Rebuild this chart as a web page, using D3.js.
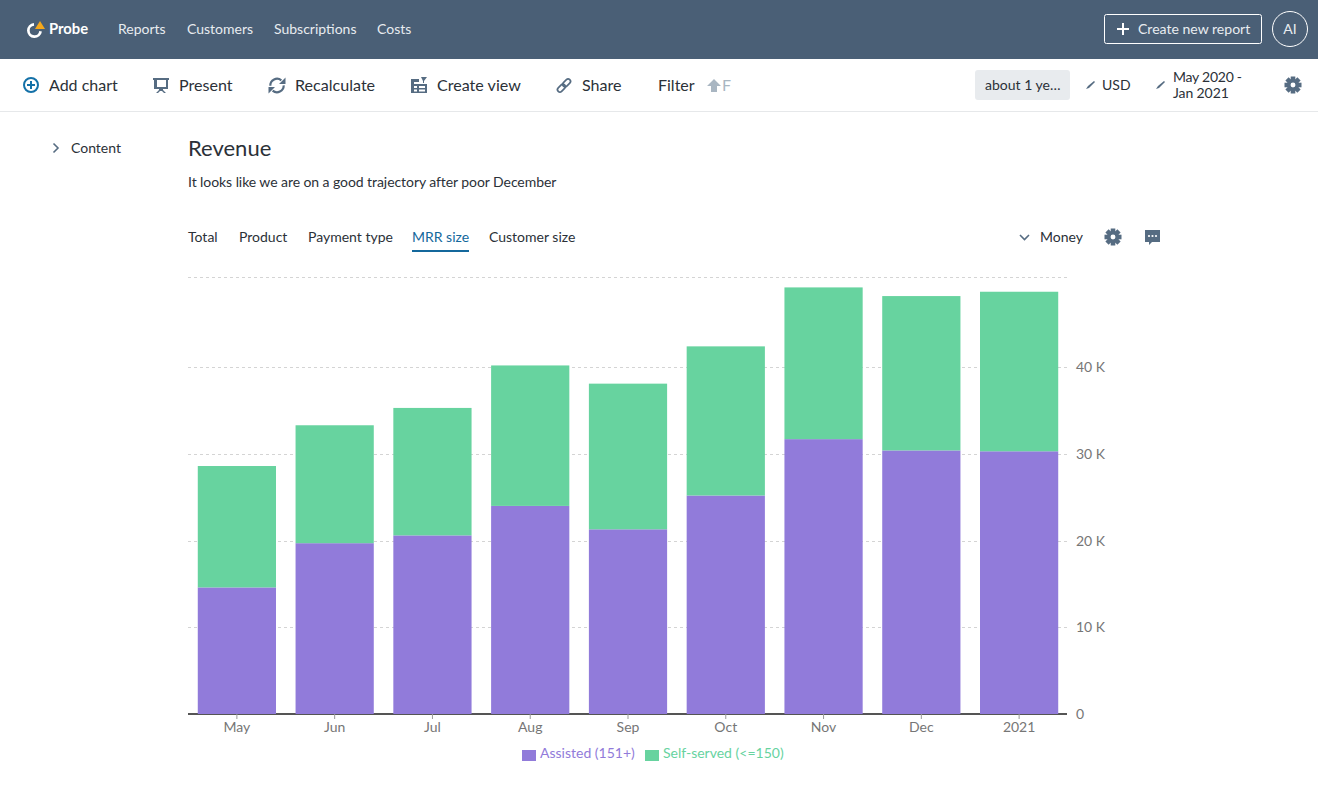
<!DOCTYPE html>
<html>
<head>
<meta charset="utf-8">
<title>Revenue</title>
<script src="https://cdn.jsdelivr.net/npm/d3@7"></script>
<style>
	html, body { margin: 0; padding: 0; background: #fff; overflow: hidden; }
	svg { display: block; font-family: Lato, "Open Sans", sans-serif; }
	.axis path, .axis line { fill: none; }
	.axis text { font-family: Lato, sans-serif; font-size: 14px; fill: #767676; }
</style>
</head>
<body>
<div id="chart"></div>
<script>

	/* ---------------------------------
		Data
	------------------------------------*/

	var months = ["May", "Jun", "Jul", "Aug", "Sep", "Oct", "Nov", "Dec", "2021"];
	var assisted = [14600, 19700, 20600, 24000, 21300, 25200, 31700, 30400, 30300];
	var selfServed = [14000, 13600, 14700, 16200, 16800, 17200, 17500, 17800, 18400];
	var seriesNames = ["Assisted (151+)", "Self-served (<=150)"];
	var yTicks = [0, 10000, 20000, 30000, 40000];
	var yTop = 50400;

	var navItems = ["Reports", "Customers", "Subscriptions", "Costs"];
	var tabs = ["Total", "Product", "Payment type", "MRR size", "Customer size"];

	var purple = "#917bda";
	var green = "#67d39f";
	var slate = "#4a5f76";
	var iconColor = "#566c82";
	var dark = "#2b3138";

	// Set width and height for SVG area
	var w = 1318;
	var h = 794;

	var svg = d3.select("#chart").append("svg")
		.attr("width", w)
		.attr("height", h);

	function label(x, y, str, size, color, opts) {
		opts = opts || {};
		return svg.append("text")
			.attr("x", x)
			.attr("y", y)
			.attr("font-size", size)
			.attr("fill", color)
			.attr("font-weight", opts.weight || 400)
			.attr("text-anchor", opts.anchor || "start")
			.attr("letter-spacing", opts.spacing || null)
			.text(str);
	}

	// small gear, used twice
	function gear(cx, cy, r) {
		var g = svg.append("g").attr("transform", "translate(" + cx + "," + cy + ")");
		d3.range(8).forEach(function(i) {
			g.append("rect")
				.attr("x", -r * 0.27).attr("y", -r)
				.attr("width", r * 0.54).attr("height", r * 0.5)
				.attr("fill", iconColor)
				.attr("transform", "rotate(" + i * 45 + ")");
		});
		g.append("circle").attr("r", r * 0.5)
			.attr("fill", "none")
			.attr("stroke", iconColor)
			.attr("stroke-width", r * 0.42);
	}

	function pencil(x, y) {
		svg.append("path")
			.attr("d", "M" + x + "," + (y + 8) + "l2,-3l6,-5l1,1l-6,6z")
			.attr("fill", iconColor);
	}


	/* ---------------------------------
		Top bar
	------------------------------------*/

	svg.append("rect").attr("width", w).attr("height", 59).attr("fill", slate);

	// logo
	svg.append("path")
		.attr("d", d3.arc()({ innerRadius: 4.8, outerRadius: 7.5, startAngle: 1.7, endAngle: 6.2 }))
		.attr("transform", "translate(34.5,30.5)")
		.attr("fill", "#fff");
	svg.append("path").attr("d", "M35,29 L40,21 L45,29 Z").attr("fill", "#f5a81c");
	label(49, 34, "Probe", 14.8, "#fff", { weight: 700 });

	var navX = [118, 187, 274, 377];
	navItems.forEach(function(d, i) {
		label(navX[i], 34, d, 14, "#e8ecf0");
	});

	svg.append("rect")
		.attr("x", 1104.5).attr("y", 14.5).attr("width", 157).attr("height", 29).attr("rx", 2)
		.attr("fill", "none").attr("stroke", "#fff");
	svg.append("path")
		.attr("d", "M1123,23v12M1117,29h12")
		.attr("stroke", "#fff").attr("stroke-width", 2).attr("fill", "none");
	label(1138, 34, "Create new report", 14.05, "#e8ecf0");
	svg.append("circle")
		.attr("cx", 1290).attr("cy", 29).attr("r", 17.5)
		.attr("fill", "none").attr("stroke", "#fff");
	label(1290, 34, "AI", 14, "#e8ecf0", { anchor: "middle" });


	/* ---------------------------------
		Toolbar
	------------------------------------*/

	svg.append("line")
		.attr("x1", 0).attr("x2", w).attr("y1", 111.5).attr("y2", 111.5)
		.attr("stroke", "#e6e8ea");

	// add chart
	svg.append("circle").attr("cx", 31).attr("cy", 85).attr("r", 7)
		.attr("fill", "none").attr("stroke", "#1471a8").attr("stroke-width", 2);
	svg.append("path").attr("d", "M31,81v8M27,85h8")
		.attr("stroke", "#1471a8").attr("stroke-width", 2);
	label(49, 91, "Add chart", 16, dark);

	// present
	svg.append("path")
		.attr("d", "M153,78h16v2h-1v9h-5v1l3,3h-2l-2,-2h-2l-2,2h-2l3,-3v-1h-5v-9h-1zM157,80v7h9v-7z")
		.attr("fill", iconColor);
	label(179, 91, "Present", 16.1, dark);

	// recalculate
	svg.append("path")
		.attr("d", d3.arc()({ innerRadius: 5.6, outerRadius: 7.8, startAngle: -1.6, endAngle: 0.7 }))
		.attr("transform", "translate(277,85.5)").attr("fill", iconColor);
	svg.append("path")
		.attr("d", d3.arc()({ innerRadius: 5.6, outerRadius: 7.8, startAngle: 1.55, endAngle: 3.85 }))
		.attr("transform", "translate(277,85.5)").attr("fill", iconColor);
	svg.append("path").attr("d", "M285.500,77.500v6.500h-6.500zM268.500,93.500v-6.500h6.500z").attr("fill", iconColor);
	label(295, 91, "Recalculate", 16.1, dark);

	// create view
	svg.append("path")
		.attr("d", "M411,79h8v3h-5v2h13v9h-16zM414,86v2h3v-2zM419,86v2h6v-2zM414,89.500v2h3v-2zM419,89.500v2h6v-2zM421,77h6l-3,4v2h-1v-2z")
		.attr("fill", iconColor).attr("fill-rule", "evenodd");
	label(437, 91, "Create view", 16.1, dark);

	// share
	[[-2.6, 2.6], [2.6, -2.6]].forEach(function(p) {
		svg.append("rect")
			.attr("x", -4.5).attr("y", -2.4).attr("width", 9).attr("height", 4.8).attr("rx", 2.4)
			.attr("fill", "none").attr("stroke", iconColor).attr("stroke-width", 1.7)
			.attr("transform", "translate(" + (564 + p[0]) + "," + (85.5 + p[1]) + ") rotate(-45)");
	});
	label(582, 91, "Share", 16.1, dark);

	label(658, 91, "Filter", 16, dark);
	svg.append("path").attr("d", "M714,79l7,7h-4v6h-6v-6h-4z").attr("fill", "#a9b6c2");
	label(722, 91, "F", 16, "#a9b6c2");

	svg.append("rect")
		.attr("x", 975).attr("y", 70).attr("width", 95).attr("height", 30).attr("rx", 3)
		.attr("fill", "#e8ebee");
	label(985, 90, "about 1 ye…", 14, dark);

	pencil(1086, 81);
	label(1102, 90, "USD", 14, dark);
	pencil(1156, 81);
	label(1173, 82, "May 2020 -", 14, dark, { spacing: -0.25 });
	label(1173, 98, "Jan 2021", 14, dark, { spacing: -0.1 });
	gear(1293, 85, 8.5);


	/* ---------------------------------
		Side content and headings
	------------------------------------*/

	svg.append("path").attr("d", "M53.500,143.500l4.500,4.500l-4.500,4.500")
		.attr("fill", "none").attr("stroke", iconColor).attr("stroke-width", 1.6);
	label(71, 153, "Content", 14, dark);

	label(188, 156, "Revenue", 22, dark);
	label(188, 187, "It looks like we are on a good trajectory after poor December", 14, dark, { spacing: -0.07 });

	var tabX = [188, 239, 308, 412, 489];
	tabs.forEach(function(d, i) {
		label(tabX[i], 242, d, 14, d == "MRR size" ? "#14689c" : dark);
	});
	svg.append("rect")
		.attr("x", 412).attr("y", 250).attr("width", 57).attr("height", 2)
		.attr("fill", "#14689c");

	svg.append("path").attr("d", "M1020,235l4.500,4.500l4.500,-4.500")
		.attr("fill", "none").attr("stroke", iconColor).attr("stroke-width", 1.6);
	label(1040, 242, "Money", 14, dark);
	gear(1113, 237, 8.5);
	svg.append("path")
		.attr("d", "M1145,230h15v12h-8l-3,3v-3h-4z")
		.attr("fill", iconColor);
	[1149, 1152.5, 1156].forEach(function(x) {
		svg.append("circle").attr("cx", x).attr("cy", 236).attr("r", 1.1).attr("fill", "#fff");
	});


	/* ---------------------------------
		Scales & Axes
	------------------------------------*/

	var chartLeft = 188, chartRight = 1068, chartTop = 277, chartBottom = 714;

	var xScale = d3.scaleBand()
		.domain(months)
		.range([chartLeft, chartRight])
		.paddingInner(0.2)
		.paddingOuter(0.1);

	var yScale = d3.scaleLinear()
		.domain([0, yTop])
		.range([chartBottom, chartTop]);

	var formatK = function(d) { return d == 0 ? "0" : (d / 1000) + " K"; };

	// Dotted grid lines, the top one has no label
	svg.append("g")
		.selectAll("line")
		.data(yTicks.slice(1).concat([yTop]))
		.enter()
		.append("line")
		.attr("x1", chartLeft)
		.attr("x2", chartRight - 1)
		.attr("y1", function(d) { return Math.round(yScale(d)) + 0.5; })
		.attr("y2", function(d) { return Math.round(yScale(d)) + 0.5; })
		.attr("stroke", "#d4d4d4")
		.attr("stroke-dasharray", "3,3");

	// X axis goes under the bars, they cover the top half of its line
	var xAxis = d3.axisBottom(xScale).tickSize(5).tickPadding(3);
	var gx = svg.append("g")
		.attr("class", "axis")
		.attr("transform", "translate(0," + chartBottom + ")")
		.call(xAxis);
	gx.select(".domain").attr("stroke", "#555").attr("stroke-width", 2)
		.attr("d", "M" + chartLeft + ",0H" + (chartRight - 1));
	gx.selectAll(".tick line").attr("stroke", "#999");


	/* ---------------------------------
		Bars
	------------------------------------*/

	var stackData = months.map(function(m, i) {
		return { month: m, a: assisted[i], s: selfServed[i] };
	});
	var stacked = d3.stack().keys(["a", "s"])(stackData);
	var colors = [purple, green];

	svg.append("g")
		.selectAll("g")
		.data(stacked)
		.enter()
		.append("g")
		.attr("fill", function(d, i) { return colors[i]; })
		.selectAll("rect")
		.data(function(d) { return d; })
		.enter()
		.append("rect")
		.attr("x", function(d) { return xScale(d.data.month); })
		.attr("width", xScale.bandwidth())
		.attr("y", function(d) { return yScale(d[1]); })
		.attr("height", function(d) { return yScale(d[0]) - yScale(d[1]); });

	var yAxis = d3.axisRight(yScale).tickValues(yTicks).tickFormat(formatK).tickSize(0).tickPadding(0);
	var gy = svg.append("g")
		.attr("class", "axis")
		.attr("transform", "translate(1076,0)")
		.call(yAxis);
	gy.select(".domain").remove();


	/* ---------------------------------
		Legend
	------------------------------------*/

	var legendX = [522, 645];
	seriesNames.forEach(function(d, i) {
		svg.append("rect")
			.attr("x", legendX[i]).attr("y", 750)
			.attr("width", 14).attr("height", 11)
			.attr("fill", colors[i]);
		label(legendX[i] + 18, 758, d, 14, colors[i]);
	});

</script>
</body>
</html>
